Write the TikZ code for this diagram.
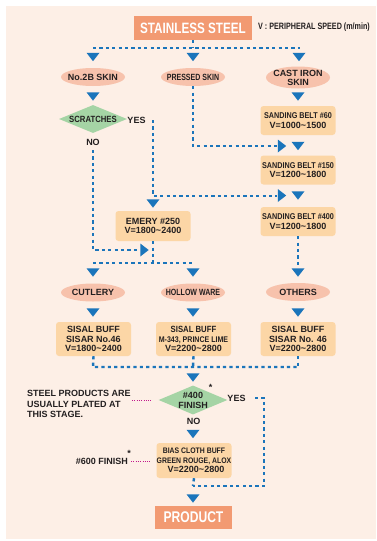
\documentclass[tikz,border=0pt]{standalone}
\usepackage{fontspec}
\setmainfont{Liberation Sans}
\newfontfamily\cnd{Liberation Sans}[FakeStretch=0.78]
\newfontfamily\nrw{Liberation Sans}[FakeStretch=0.86]
\usepackage{tikz}
\usetikzlibrary{shapes.geometric,positioning,calc}

\definecolor{bgpeach}{HTML}{FDEFE6}
\definecolor{salmon}{HTML}{F29A72}
\definecolor{skinpink}{HTML}{F7C2AC}
\definecolor{padorange}{HTML}{FCD6A6}
\definecolor{checkgreen}{HTML}{A5D4A5}
\definecolor{flowblue}{HTML}{1B75BB}
\definecolor{notemag}{HTML}{C2188D}
\definecolor{inkgray}{HTML}{231F20}

\tikzset{
  headbox/.style={fill=salmon, text=white, inner sep=0pt,
    font=\cnd\bfseries\fontsize{15}{16}\selectfont},
  skin/.style={ellipse, fill=skinpink, minimum width=64pt, minimum height=18pt, text=inkgray,
    inner xsep=-6pt, inner ysep=-2pt, align=center, font=\bfseries\fontsize{9}{9}\selectfont},
  stage/.style={fill=padorange, rounded corners=3pt, minimum width=75pt, minimum height=29pt, text=inkgray,
    inner sep=0pt, align=center, font=\bfseries\fontsize{9}{9.5}\selectfont},
  check/.style={diamond, fill=checkgreen, aspect=2.4, inner sep=0pt, align=center, text=inkgray,
    font=\bfseries\fontsize{9}{10}\selectfont},
  tag/.style={inner sep=0pt, text=inkgray, font=\bfseries\fontsize{9}{10}\selectfont},
  flow/.style={flowblue, line width=2.4pt, dash pattern=on 3.2pt off 3.2pt},
  hint/.style={notemag, line width=1pt, dash pattern=on 1pt off 1.3pt},
  drop/.pic={\fill[flowblue] (-6.5,-4.2) -- (6.5,-4.2) -- (0,4.2) -- cycle;},
  push/.pic={\fill[flowblue] (-4.2,-6.5) -- (-4.2,6.5) -- (4.2,0) -- cycle;},
}

\begin{document}
\begin{tikzpicture}[x=1pt,y=-1pt]

    \useasboundingbox (0,0) rectangle (376,541);
    \fill[bgpeach] (6,6) rectangle (376,539);

    \node[headbox, minimum width=118pt, minimum height=24pt] (steel) at (193,28) {STAINLESS STEEL};
    \node[tag, anchor=west, font=\cnd\bfseries\fontsize{9.2}{10}\selectfont] (speed) at (258,27.5) {V : PERIPHERAL SPEED (m/min)};

    \node[skin] (skin2b) at (93,77) {No.2B SKIN};
    \node[skin, font=\cnd\bfseries\fontsize{9}{9}\selectfont] (pressed) at (193,77) {PRESSED SKIN};
    \node[skin, minimum height=22pt] (castiron) at (298,77.5) {CAST IRON\\SKIN};

    \node[check, minimum width=68pt, minimum height=28pt, font=\nrw\bfseries\fontsize{9}{10}\selectfont] (scratch) at (93,119) {SCRATCHES};
    \node[tag] (yes1) at (136.5,120) {YES};
    \node[tag] (no1) at (93,142.5) {NO};

    \node[stage] (sb60) at (298,120.5) {{\nrw\fontsize{8.4}{9}\selectfont SANDING BELT \#60}\\V=1000\textasciitilde1500};
    \node[stage] (sb150) at (298,170) {{\nrw\fontsize{8.4}{9}\selectfont SANDING BELT \#150}\\V=1200\textasciitilde1800};
    \node[stage] (sb400) at (298,221.5) {{\nrw\fontsize{8.4}{9}\selectfont SANDING BELT \#400}\\V=1200\textasciitilde1800};
    \node[stage, minimum height=30pt] (emery) at (153,226) {EMERY \#250\\V=1800\textasciitilde2400};

    \node[skin] (cutlery) at (93,292.5) {CUTLERY};
    \node[skin, font=\cnd\bfseries\fontsize{9}{9}\selectfont] (hollow) at (193,292.5) {HOLLOW WARE};
    \node[skin] (others) at (298,292) {OTHERS};

    \node[stage, minimum height=34pt] (sisal1) at (93.5,339) {SISAL BUFF\\SISAR No.46\\V=1800\textasciitilde2400};
    \node[stage, minimum height=34pt] (sisal2) at (193.5,339) {{\nrw SISAL BUFF}\\{\nrw\fontsize{8.2}{9.5}\selectfont M-343, PRINCE LIME}\\V=2200\textasciitilde2800};
    \node[stage, minimum height=34pt] (sisal3) at (298,339) {SISAL BUFF\\SISAR No. 46\\V=2200\textasciitilde2800};

    \node[check, minimum width=67pt, minimum height=29pt] (finish400) at (193,400) {\#400\\FINISH};
    \node[tag] (star1) at (210.5,387) {*};
    \node[tag] (yes2) at (236.5,398.5) {YES};
    \node[tag] (no2) at (193.5,421.5) {NO};
    \node[tag, anchor=west, align=left, font=\bfseries\fontsize{9}{10.5}\selectfont] (plated) at (27,404) {STEEL PRODUCTS ARE\\USUALLY PLATED AT\\THIS STAGE.};

    \node[stage, minimum height=35pt] (bias) at (194,460.5) {{\nrw\fontsize{8}{9.5}\selectfont BIAS CLOTH BUFF}\\{\nrw\fontsize{8}{9.5}\selectfont GREEN ROUGE, ALOX}\\\hspace*{4pt}V=2200\textasciitilde2800};
    \node[tag, anchor=east] (finish600) at (128,461) {\#600 FINISH};
    \node[tag] (star2) at (129,453) {*};

    \node[headbox, minimum width=77pt, minimum height=23pt, font=\cnd\bfseries\fontsize{15.5}{16}\selectfont] (product) at (193.5,517.5) {PRODUCT};

    \coordinate (fork) at (193,48);
    \coordinate (forkL) at (93,48);
    \coordinate (forkR) at (300,48);
    \coordinate (join150) at (277,146);
    \coordinate (yesTop) at (153,120);
    \coordinate (join400) at (277,196);
    \coordinate (noTop) at (93,150);
    \coordinate (joinEmery) at (139,250);
    \coordinate (split) at (153,263);
    \coordinate (splitL) at (93,263);
    \coordinate (splitR) at (193,263);
    \coordinate (othersIn) at (298,265);
    \coordinate (collL) at (93,367);
    \coordinate (collM) at (193,367);
    \coordinate (collR) at (298,367);
    \coordinate (yesStart) at (255,398);
    \coordinate (yesTurn) at (264,398);
    \coordinate (merge) at (193,486);
    \coordinate (platedEnd) at (132,400);

    \draw[flow] (steel) -- (fork);
    \draw[flow] (forkL) -- (forkR);
    \draw[flow] (pressed.south) |- (join150);
    \draw[flow] (yesTop) |- (join400);
    \draw[flow] (noTop) |- (joinEmery);
    \draw[flow] (emery.south) -- (split);
    \draw[flow] (splitL) -- (splitR);
    \draw[flow] (sb400.south) -- (othersIn);
    \draw[flow] (sisal1.south) -- (collL) -- (collR);
    \draw[flow] (sisal2.south) -- (collM);
    \draw[flow] (sisal3.south) -- (collR);
    \draw[flow] (yesStart) -- (yesTurn) |- (merge);
    \draw[flow] (bias.south) -- (merge);

    \draw[hint, shorten >=7pt] (platedEnd) -- (finish400.west |- platedEnd);
    \draw[hint, shorten <=3pt, shorten >=6pt] (finish600.east) -- (bias.west |- finish600.east);

    \foreach \x/\y in {93/57, 193/57, 299/57, 93/96.5, 298/96.5, 298/146, 153/203.5, 298/195.5,
                       93/272.5, 193/272.5, 298/272.5, 93/312.5, 193/312.5, 298/312.5,
                       193/377.5, 193/434, 193/498.5}
      \pic at (\x,\y) {drop};
    \foreach \x/\y in {282/146, 282/195.5, 144.5/250}
      \pic at (\x,\y) {push};

  \end{tikzpicture}
\end{document}
